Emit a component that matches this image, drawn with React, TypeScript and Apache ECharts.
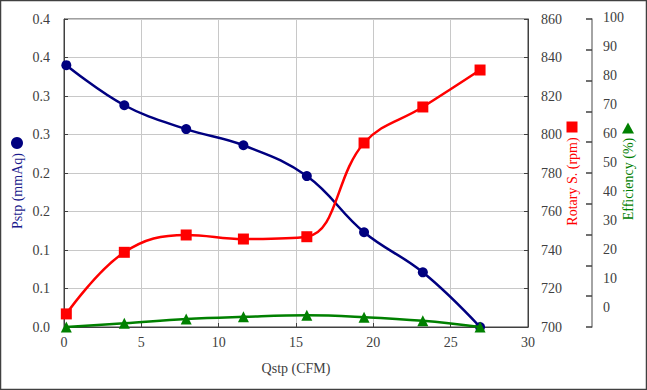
import React, { useEffect, useRef } from "react";
import * as echarts from "echarts";

const qstp = [0.15, 3.9, 7.9, 11.6, 15.7, 19.4, 23.2, 26.9];
const pstp = [0.34, 0.288, 0.257, 0.236, 0.196, 0.123, 0.071, 0.0];
const rotary = [706.8, 738.8, 747.8, 745.7, 746.9, 795.6, 814.3, 833.5];
const efficiency = [0, 1.2, 2.6, 3.3, 3.8, 3.2, 2.0, 0];
const pstpTickLabels = ["0.0", "0.1", "0.1", "0.2", "0.2", "0.3", "0.3", "0.4", "0.4"];

const FONT = "Liberation Serif";
const TXT = "#404040";
const NAVY = "#000080";
const RED = "#ff0000";
const GREEN = "#008000";

export default function App() {
  const ref = useRef<HTMLDivElement>(null);
  useEffect(() => {
    if (!ref.current) return;
    const chart = echarts.init(ref.current, undefined, { renderer: "svg" });
    const labelStyle = { fontFamily: FONT, fontSize: 14, color: TXT };
    const pairs = (ys: number[]) => qstp.map((x, i) => [x, ys[i]]);
    const nameText = (text: string, x: number, y: number, fill: string) => ({
      type: "text", x, y, rotation: Math.PI / 2,
      style: { text, fill, fontFamily: FONT, fontSize: 14, align: "center", verticalAlign: "middle" },
    });
    chart.setOption({
      animation: false,
      backgroundColor: "#ffffff",
      textStyle: { fontFamily: FONT },
      grid: [
        { left: 64, right: 119, top: 19, bottom: 63, show: true, borderColor: TXT, borderWidth: 1, backgroundColor: "transparent" },
        { left: 528, right: 55, top: 17, bottom: 83, show: false },
      ],
      xAxis: [
        {
          type: "value", gridIndex: 0, min: 0, max: 30, interval: 5,
          name: "Qstp (CFM)", nameLocation: "middle", nameGap: 34,
          nameTextStyle: { fontFamily: FONT, fontSize: 14, color: TXT },
          axisLine: { show: true, lineStyle: { color: TXT, width: 1 } },
          axisTick: { show: true, inside: true, length: 4, lineStyle: { color: TXT } },
          axisLabel: { ...labelStyle, margin: 8 },
          splitLine: { show: true, lineStyle: { color: "#c8c8c8", width: 1 } },
        },
        { type: "value", gridIndex: 1, min: 0, max: 1, show: false },
      ],
      yAxis: [
        {
          type: "value", gridIndex: 0, position: "left", min: 0, max: 0.4, interval: 0.05,
          axisLine: { show: true, lineStyle: { color: TXT, width: 1 } },
          axisTick: { show: true, inside: true, length: 4, lineStyle: { color: TXT } },
          axisLabel: { ...labelStyle, margin: 14, formatter: (v: number) => pstpTickLabels[Math.round(v / 0.05)] ?? "" },
          splitLine: { show: true, lineStyle: { color: "#c8c8c8", width: 1 } },
        },
        {
          type: "value", gridIndex: 0, position: "right", min: 700, max: 860, interval: 20,
          axisLine: { show: true, lineStyle: { color: TXT, width: 1 } },
          axisTick: { show: true, inside: true, length: 4, lineStyle: { color: TXT } },
          axisLabel: { ...labelStyle, margin: 13 },
          splitLine: { show: false },
        },
        {
          type: "value", gridIndex: 0, position: "right", offset: 64, min: 0, max: 100, interval: 10,
          axisLine: { show: true, lineStyle: { color: "#868686", width: 1.5 } },
          axisTick: { show: true, inside: true, length: 6, lineStyle: { color: TXT, width: 1.5 } },
          axisLabel: { show: false },
          splitLine: { show: false },
        },
        {
          type: "value", gridIndex: 1, position: "right", min: 0, max: 100, interval: 10,
          axisLine: { show: false },
          axisTick: { show: false },
          axisLabel: { ...labelStyle, margin: 11 },
          splitLine: { show: false },
        },
      ],
      series: [
        {
          type: "line", name: "Pstp", xAxisIndex: 0, yAxisIndex: 0, data: pairs(pstp), smooth: 0.4,
          symbol: "circle", symbolSize: 10, lineStyle: { color: NAVY, width: 2.5 }, itemStyle: { color: NAVY }, z: 2,
        },
        {
          type: "line", name: "Rotary S.", xAxisIndex: 0, yAxisIndex: 1, data: pairs(rotary), smooth: 0.4,
          symbol: "rect", symbolSize: 11, lineStyle: { color: RED, width: 2.5 }, itemStyle: { color: RED }, z: 3,
        },
        {
          type: "line", name: "Efficiency", xAxisIndex: 0, yAxisIndex: 2, data: pairs(efficiency), smooth: 0.4,
          symbol: "triangle", symbolSize: 11, lineStyle: { color: GREEN, width: 2.5 }, itemStyle: { color: GREEN }, z: 4,
        },
      ],
      graphic: [
        { type: "rect", shape: { x: 0.5, y: 0.5, width: 646, height: 389 }, style: { fill: "none", stroke: TXT, lineWidth: 1.5 }, silent: true },
        { type: "circle", shape: { cx: 17, cy: 143, r: 6 }, style: { fill: NAVY } },
        nameText("Pstp (mmAq)", 17, 191, "#1a1a8c"),
        { type: "rect", shape: { x: 566.5, y: 121.5, width: 11, height: 11 }, style: { fill: RED } },
        nameText("Rotary S. (rpm)", 572, 181.5, RED),
        { type: "polygon", shape: { points: [[628, 122.5], [634, 133.5], [622, 133.5]] }, style: { fill: GREEN } },
        nameText("Efficiency (%)", 628, 179, GREEN),
      ],
    });
    return () => chart.dispose();
  }, []);
  return <div ref={ref} style={{ position: "absolute", left: 0, top: 0, width: 647, height: 390 }} />;
}
